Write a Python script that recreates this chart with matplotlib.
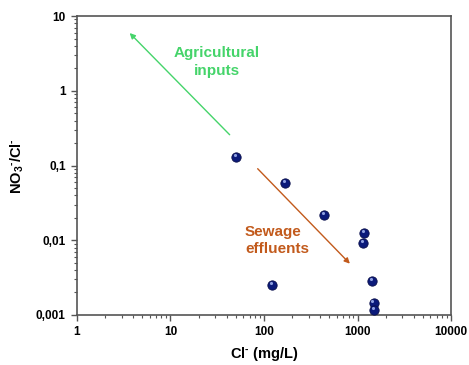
import matplotlib
matplotlib.use('Agg')
import matplotlib.pyplot as plt
import matplotlib.ticker as ticker
import numpy as np

plt.rcParams['font.family'] = ['Liberation Sans', 'DejaVu Sans']
plt.rcParams['mathtext.fontset'] = 'custom'
plt.rcParams['mathtext.rm'] = 'Liberation Sans:bold'
plt.rcParams['mathtext.it'] = 'Liberation Sans:bold'
plt.rcParams['mathtext.bf'] = 'Liberation Sans:bold'

# data
cl = [50, 168, 438, 1174, 1145, 123, 1442, 1479, 1490]
no3_cl = [0.13, 0.058, 0.0215, 0.0124, 0.0091, 0.00252, 0.00282, 0.00146, 0.00115]

agri_arrow = [(45, 0.243), (3.49, 6.3)]      # tail, head
sewage_arrow = [(81.5, 0.0964), (867, 0.00457)]

y_ticks = [0.001, 0.01, 0.1, 1, 10]
y_labels = ['0,001', '0,01', '0,1', '1', '10']
x_ticks = [1, 10, 100, 1000, 10000]
x_labels = ['1', '10', '100', '1000', '10000']

green = '#45d46a'
orange = '#c25a1c'
spine_c = '#555555'

fig = plt.figure(figsize=(4.69, 3.65), dpi=100)
ax = fig.add_axes([0.164, 0.137, 0.798, 0.819])
ax.set_xscale('log')
ax.set_yscale('log')
ax.set_xlim(1, 10000)
ax.set_ylim(0.001, 10)

# points: dark spheres with a small highlight
ax.scatter(cl, no3_cl, s=45, color='#0b1a7a', edgecolor='#0a0f4a', linewidth=0.6, zorder=3)
ax.scatter(np.array(cl) * 0.97, np.array(no3_cl) * 1.07, s=5, color='#8fa0e0', linewidth=0, zorder=4)

ax.annotate('', xy=agri_arrow[1], xytext=agri_arrow[0],
            arrowprops=dict(arrowstyle='-|>', color=green, lw=1.0, mutation_scale=8))
ax.annotate('', xy=sewage_arrow[1], xytext=sewage_arrow[0],
            arrowprops=dict(arrowstyle='-|>', color=orange, lw=1.0, mutation_scale=8))

ax.text(31.4, 2.43, 'Agricultural\ninputs', color=green, fontsize=11, fontweight='bold',
        ha='center', va='center', linespacing=1.3)
ax.text(62.6, 0.0099, 'Sewage\neffluents', color=orange, fontsize=11, fontweight='bold',
        ha='left', va='center', linespacing=1.2)

ax.set_yticks(y_ticks)
ax.set_yticklabels(y_labels)
ax.set_xticks(x_ticks)
ax.set_xticklabels(x_labels)
ax.xaxis.set_minor_locator(ticker.LogLocator(base=10, subs=np.arange(2, 10)))
ax.yaxis.set_minor_locator(ticker.LogLocator(base=10, subs=np.arange(2, 10)))
ax.xaxis.set_minor_formatter(ticker.NullFormatter())
ax.yaxis.set_minor_formatter(ticker.NullFormatter())

ax.tick_params(which='major', direction='out', length=4, width=1, color=spine_c,
               labelsize=8.5, pad=4)
ax.tick_params(which='minor', direction='out', length=2, width=0.8, color=spine_c)
for lab in ax.get_xticklabels() + ax.get_yticklabels():
    lab.set_fontweight('bold')

for s in ax.spines.values():
    s.set_color(spine_c)
    s.set_linewidth(1.2)

ax.set_xlabel(r'Cl$^{\text{-}}$ (mg/L)', fontsize=10.5, fontweight='bold', labelpad=5)
ax.set_ylabel(r'NO$_3$$^{\text{-}}$/Cl$^{\text{-}}$', fontsize=10.5, fontweight='bold', labelpad=7)

fig.savefig('out.png', dpi=100)
